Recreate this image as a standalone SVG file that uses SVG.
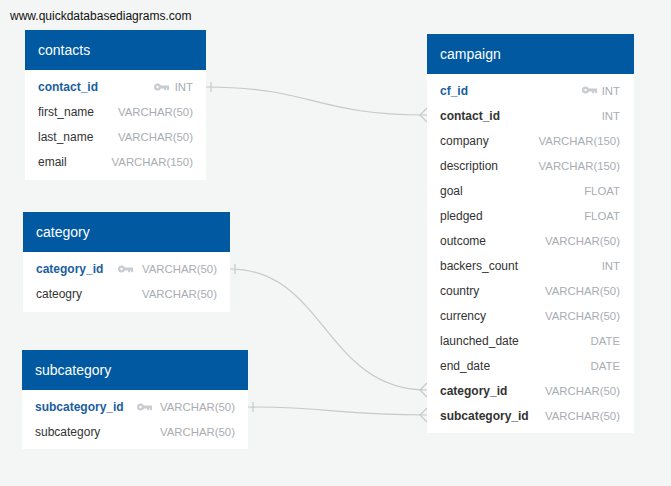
<svg xmlns="http://www.w3.org/2000/svg" width="671" height="486" viewBox="0 0 671 486">
<style>
.bg{fill:#f4f5f5}
.hd{fill:#0059a1}
.bd{fill:#ffffff}
.ttl{font-family:"Liberation Sans",Arial,sans-serif;font-size:14px;fill:#ffffff}
.f{font-family:"Liberation Sans",Arial,sans-serif;font-size:12px;fill:#333333}
.pk{font-family:"Liberation Sans",Arial,sans-serif;font-size:12px;font-weight:bold;fill:#1a5e9f}
.fk{font-family:"Liberation Sans",Arial,sans-serif;font-size:12px;font-weight:bold;fill:#333333}
.t{font-family:"Liberation Sans",Arial,sans-serif;font-size:11.4px;fill:#a9adb3;text-anchor:end}
.wm{font-family:"Liberation Sans",Arial,sans-serif;font-size:12px;fill:#111111}
.ln{fill:none;stroke:#c6c8ca;stroke-width:1.2}
</style>
<defs>
<g id="key">
<circle cx="3.5" cy="0" r="3.5" fill="#c9ccd0"/>
<circle cx="3.5" cy="0" r="1.2" fill="#ffffff"/>
<rect x="5.5" y="-1.5" width="9.5" height="3" fill="#c9ccd0"/>
<rect x="10" y="1" width="2" height="2.2" fill="#c9ccd0"/>
<rect x="13" y="1" width="2" height="2.2" fill="#c9ccd0"/>
</g>
</defs>
<rect class="bg" x="0" y="0" width="671" height="486"/>
<text class="wm" x="10" y="20">www.quickdatabasediagrams.com</text>

<g id="connectors">
<path class="ln" d="M206,87 C313,87 313,115 427,115"/>
<path class="ln" d="M211,82 V92"/>
<path class="ln" d="M427,108 L420,115 L427,122"/>
<path class="ln" d="M230,269 C325,269 325,390 427,390"/>
<path class="ln" d="M235,264 V274"/>
<path class="ln" d="M427,383 L420,390 L427,397"/>
<path class="ln" d="M248,407 C334,407 334,415 427,415"/>
<path class="ln" d="M253,402 V412"/>
<path class="ln" d="M427,408 L420,415 L427,422"/>
</g>

<g id="contacts">
<rect class="bd" x="25" y="30" width="181" height="150"/>
<rect class="hd" x="25" y="30" width="181" height="40"/>
<text class="ttl" x="38" y="55">contacts</text>
<text class="pk" x="38" y="91">contact_id</text>
<use href="#key" x="154" y="87"/>
<text class="t" x="193" y="91">INT</text>
<text class="f" x="38" y="116">first_name</text>
<text class="t" x="193" y="116">VARCHAR(50)</text>
<text class="f" x="38" y="141">last_name</text>
<text class="t" x="193" y="141">VARCHAR(50)</text>
<text class="f" x="38" y="166">email</text>
<text class="t" x="193" y="166">VARCHAR(150)</text>
</g>

<g id="category">
<rect class="bd" x="23" y="212" width="207" height="100"/>
<rect class="hd" x="23" y="212" width="207" height="40"/>
<text class="ttl" x="36" y="237">category</text>
<text class="pk" x="36" y="273">category_id</text>
<use href="#key" x="118" y="269"/>
<text class="t" x="217" y="273">VARCHAR(50)</text>
<text class="f" x="36" y="298">cateogry</text>
<text class="t" x="217" y="298">VARCHAR(50)</text>
</g>

<g id="subcategory">
<rect class="bd" x="22" y="350" width="226" height="99"/>
<rect class="hd" x="22" y="350" width="226" height="40"/>
<text class="ttl" x="35" y="375">subcategory</text>
<text class="pk" x="35" y="411">subcategory_id</text>
<use href="#key" x="137" y="407"/>
<text class="t" x="235" y="411">VARCHAR(50)</text>
<text class="f" x="35" y="436">subcategory</text>
<text class="t" x="235" y="436">VARCHAR(50)</text>
</g>

<g id="campaign">
<rect class="bd" x="427" y="34" width="207" height="399"/>
<rect class="hd" x="427" y="34" width="207" height="40"/>
<text class="ttl" x="440" y="59">campaign</text>
<text class="pk" x="440" y="95">cf_id</text>
<use href="#key" x="582" y="90"/>
<text class="t" x="620" y="95">INT</text>
<text class="fk" x="440" y="120">contact_id</text>
<text class="t" x="620" y="120">INT</text>
<text class="f" x="440" y="145">company</text>
<text class="t" x="620" y="145">VARCHAR(150)</text>
<text class="f" x="440" y="170">description</text>
<text class="t" x="620" y="170">VARCHAR(150)</text>
<text class="f" x="440" y="195">goal</text>
<text class="t" x="620" y="195">FLOAT</text>
<text class="f" x="440" y="220">pledged</text>
<text class="t" x="620" y="220">FLOAT</text>
<text class="f" x="440" y="245">outcome</text>
<text class="t" x="620" y="245">VARCHAR(50)</text>
<text class="f" x="440" y="270">backers_count</text>
<text class="t" x="620" y="270">INT</text>
<text class="f" x="440" y="295">country</text>
<text class="t" x="620" y="295">VARCHAR(50)</text>
<text class="f" x="440" y="320">currency</text>
<text class="t" x="620" y="320">VARCHAR(50)</text>
<text class="f" x="440" y="345">launched_date</text>
<text class="t" x="620" y="345">DATE</text>
<text class="f" x="440" y="370">end_date</text>
<text class="t" x="620" y="370">DATE</text>
<text class="fk" x="440" y="395">category_id</text>
<text class="t" x="620" y="395">VARCHAR(50)</text>
<text class="fk" x="440" y="420">subcategory_id</text>
<text class="t" x="620" y="420">VARCHAR(50)</text>
</g>
</svg>
